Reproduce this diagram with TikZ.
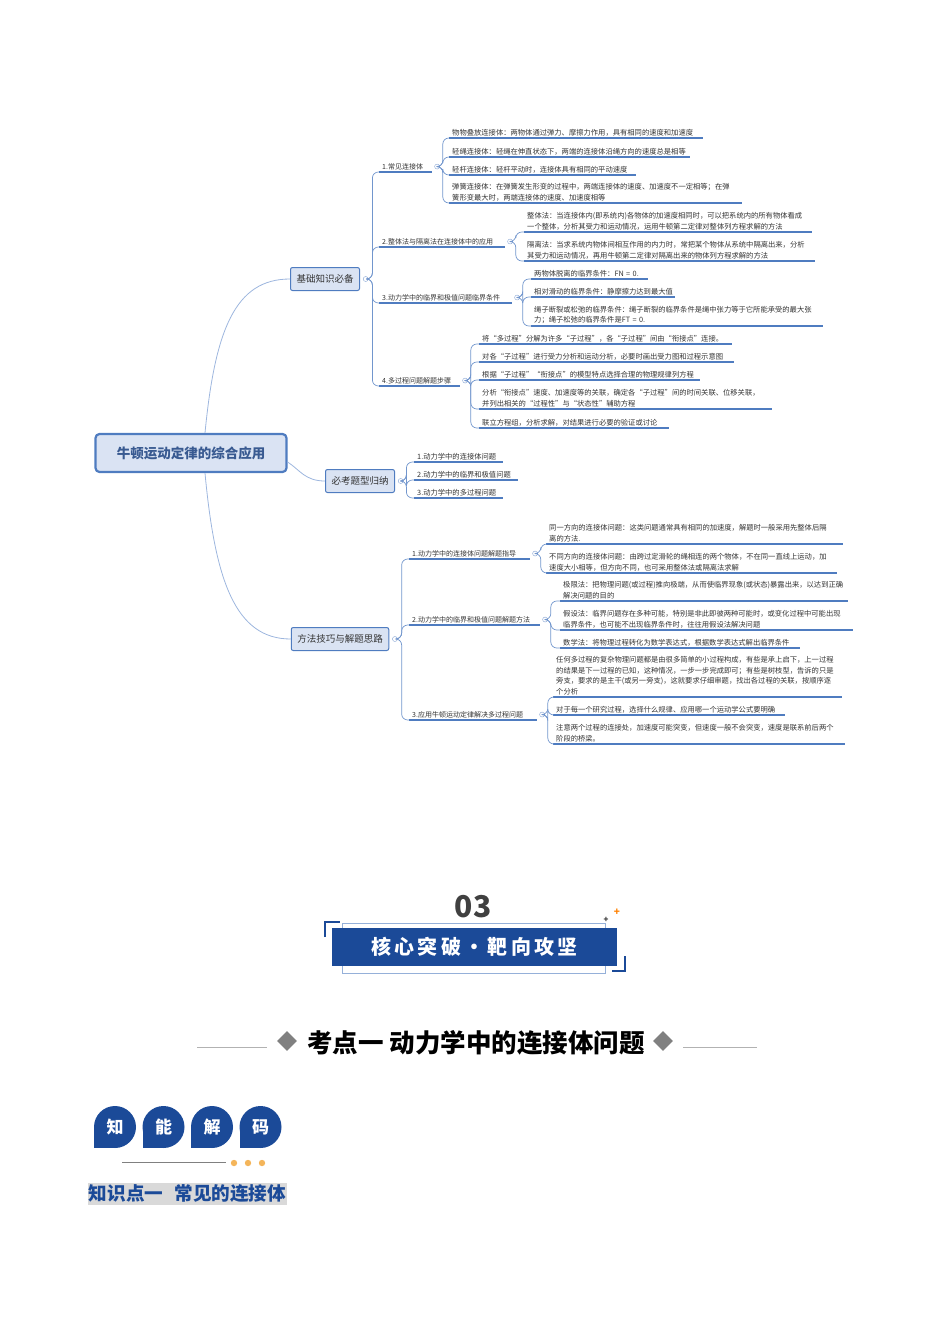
\documentclass[tikz,border=0pt]{standalone}
\usepackage{fontspec}
\setmainfont{Noto Sans CJK SC}
\usepackage{tikz}
\usetikzlibrary{positioning}
\definecolor{lineblue}{HTML}{4F7CC0}
\definecolor{branchblue}{HTML}{9DB6DE}
\definecolor{boxfill}{HTML}{DAE3F3}
\definecolor{navy}{HTML}{1B4A98}
\definecolor{leafgray}{HTML}{333333}
\definecolor{dotorange}{HTML}{F4B55A}

\begin{document}
\begin{tikzpicture}[%
    x=1pt, y=-1pt,
    root/.style={%
        draw=lineblue,
        line width=2.2pt,
        fill=boxfill,
        rounded corners=4pt,
        minimum width=191pt,
        minimum height=38pt,
        font=\fontsize{13.5}{15}\selectfont\bfseries,
        text=navy!70!gray
    },
    topic/.style={%
        draw=lineblue,
        line width=1pt,
        fill=boxfill,
        rounded corners=2pt,
        minimum height=23pt,
        inner xsep=6pt,
        font=\fontsize{9.5}{11}\selectfont,
        text=leafgray
    },
    sub/.style={%
        anchor=south west,
        inner xsep=3pt,
        inner ysep=2pt,
        align=left,
        font=\fontsize{7}{10.5}\selectfont,
        text=leafgray
    },
    leaf/.style={%
        sub,
        font=\fontsize{7.3}{10.5}\selectfont
    },
    coll/.style={%
        draw=lineblue!70,
        circle,
        inner sep=0pt,
        minimum size=5pt,
        fill=white
    },
    uline/.style={draw=lineblue, line width=1.1pt},
    branch/.style={draw=lineblue!80, line width=0.7pt, rounded corners=6pt},
    trunk/.style={draw=branchblue, line width=0.8pt}
]
\useasboundingbox (0,0) rectangle (950,1344);

% Root and main topics
    \node[root] (root) at (191,453) {牛顿运动定律的综合应用};
    \node[topic] (basic) at (325,279) {基础知识必备};
    \node[topic] (types) at (360,481) {必考题型归纳};
    \node[topic] (method) at (340,639) {方法技巧与解题思路};
    \node[coll, right=3pt of basic] (basicC) {};
    \node[coll, right=3pt of types] (typesC) {};
    \node[coll, right=3pt of method] (methodC) {};

\draw[trunk] ([xshift=14pt]root.north) .. controls (215,330) and (235,279) .. (basic.west);
\draw[trunk] ([yshift=-9pt]root.east) .. controls (300,470) and (305,481) .. (types.west);
\draw[trunk] ([xshift=14pt]root.south) .. controls (215,580) and (235,639) .. (method.west);

% Basic knowledge
    \node[sub, text width=47pt] (b1) at (379,172) {1.常见连接体};
    \node[sub, text width=120pt] (b2) at (379,247) {2.整体法与隔离法在连接体中的应用};
    \node[sub, text width=127pt] (b3) at (379,303) {3.动力学中的临界和极值问题临界条件};
    \node[sub, text width=75pt] (b4) at (379,386) {4.多过程问题解题步骤};
    \foreach \b in {b1,b2,b3,b4} {
        \node[coll, right=2pt of \b] (\b C) {};
        \draw[uline] (\b.south west) -- (\b.south east);
        \draw[branch] (basicC.east) -- ++(4,0) |- (\b.south west);
    }

    \node[leaf, text width=248pt] (b11) at (449,138) {物物叠放连接体：两物体通过弹力、摩擦力作用，具有相同的速度和加速度};
    \node[leaf, text width=235pt] (b12) at (449,157) {轻绳连接体：轻绳在伸直状态下，两端的连接体沿绳方向的速度总是相等};
    \node[leaf, text width=181pt] (b13) at (449,175) {轻杆连接体：轻杆平动时，连接体具有相同的平动速度};
    \node[leaf, text width=287pt] (b14) at (449,203) {弹簧连接体：在弹簧发生形变的过程中，两端连接体的速度、加速度不一定相等；在弹\\簧形变最大时，两端连接体的速度、加速度相等};
    \node[leaf, text width=282pt] (b21) at (524,232) {整体法：当连接体内(即系统内)各物体的加速度相同时，可以把系统内的所有物体看成\\一个整体，分析其受力和运动情况，运用牛顿第二定律对整体列方程求解的方法};
    \node[leaf, text width=285pt] (b22) at (524,261) {隔离法：当求系统内物体间相互作用的内力时，常把某个物体从系统中隔离出来，分析\\其受力和运动情况，再用牛顿第二定律对隔离出来的物体列方程求解的方法};
    \node[leaf, text width=111pt] (b31) at (531,279) {两物体脱离的临界条件：FN = 0.};
    \node[leaf, text width=138pt] (b32) at (531,297) {相对滑动的临界条件：静摩擦力达到最大值};
    \node[leaf, text width=286pt] (b33) at (531,326) {绳子断裂或松弛的临界条件：绳子断裂的临界条件是绳中张力等于它所能承受的最大张\\力；绳子松弛的临界条件是FT = 0.};
    \node[leaf, text width=247pt] (b41) at (479,344) {将“多过程”分解为许多“子过程”，各“子过程”间由“衔接点”连接。};
    \node[leaf, text width=249pt] (b42) at (479,362) {对各“子过程”进行受力分析和运动分析，必要时画出受力图和过程示意图};
    \node[leaf, text width=215pt] (b43) at (479,380) {根据“子过程”“衔接点”的模型特点选择合理的物理规律列方程};
    \node[leaf, text width=287pt] (b44) at (479,409) {分析“衔接点”速度、加速度等的关联，确定各“子过程”间的时间关联、位移关联，\\并列出相关的“过程性”与“状态性”辅助方程};
    \node[leaf, text width=184pt] (b45) at (479,428) {联立方程组，分析求解，对结果进行必要的验证或讨论};
    \foreach \p/\l in {b1/b11,b1/b12,b1/b13,b1/b14,b2/b21,b2/b22,b3/b31,b3/b32,b3/b33,%
        b4/b41,b4/b42,b4/b43,b4/b44,b4/b45} {
        \draw[uline] (\l.south west) -- (\l.south east);
        \draw[branch] (\p C.east) -- ++(3,0) |- (\l.south west);
    }

% Question types
    \node[leaf, text width=83pt] (t1) at (414,462) {1.动力学中的连接体问题};
    \node[leaf, text width=98pt] (t2) at (414,480) {2.动力学中的临界和极值问题};
    \node[leaf, text width=83pt] (t3) at (414,498) {3.动力学中的多过程问题};
    \foreach \l in {t1,t2,t3} {
        \draw[uline] (\l.south west) -- (\l.south east);
        \draw[branch] (typesC.east) -- ++(3,0) |- (\l.south west);
    }

% Methods
    \node[sub, text width=115pt] (m1) at (409,559) {1.动力学中的连接体问题解题指导};
    \node[sub, text width=125pt] (m2) at (409,625) {2.动力学中的临界和极值问题解题方法};
    \node[sub, text width=122pt] (m3) at (409,720) {3.应用牛顿运动定律解决多过程问题};
    \foreach \b in {m1,m2,m3} {
        \node[coll, right=2pt of \b] (\b C) {};
        \draw[uline] (\b.south west) -- (\b.south east);
        \draw[branch] (methodC.east) -- ++(4,0) |- (\b.south west);
    }

    \node[leaf, text width=291pt] (m11) at (546,544) {同一方向的连接体问题：这类问题通常具有相同的加速度，解题时一般采用先整体后隔\\离的方法.};
    \node[leaf, text width=285pt] (m12) at (546,573) {不同方向的连接体问题：由跨过定滑轮的绳相连的两个物体，不在同一直线上运动，加\\速度大小相等，但方向不同，也可采用整体法或隔离法求解};
    \node[leaf, text width=282pt] (m21) at (560,601) {极限法：把物理问题(或过程)推向极端，从而使临界现象(或状态)暴露出来，以达到正确\\解决问题的目的};
    \node[leaf, text width=287pt] (m22) at (560,630) {假设法：临界问题存在多种可能，特别是非此即彼两种可能时，或变化过程中可能出现\\临界条件，也可能不出现临界条件时，往往用假设法解决问题};
    \node[leaf, text width=234pt] (m23) at (560,648) {数学法：将物理过程转化为数学表达式，根据数学表达式解出临界条件};
    \node[leaf, text width=283pt] (m31) at (553,697) {任何多过程的复杂物理问题都是由很多简单的小过程构成，有些是承上启下，上一过程\\的结果是下一过程的已知，这种情况，一步一步完成即可；有些是树枝型，告诉的只是\\旁支，要求的是主干(或另一旁支)，这就要求仔细审题，找出各过程的关联，按顺序逐\\个分析};
    \node[leaf, text width=226pt] (m32) at (553,715) {对于每一个研究过程，选择什么规律、应用哪一个运动学公式要明确};
    \node[leaf, text width=286pt] (m33) at (553,744) {注意两个过程的连接处，加速度可能突变，但速度一般不会突变，速度是联系前后两个\\阶段的桥梁。};
    \foreach \p/\l in {m1/m11,m1/m12,m2/m21,m2/m22,m2/m23,m3/m31,m3/m32,m3/m33} {
        \draw[uline] (\l.south west) -- (\l.south east);
        \draw[branch] (\p C.east) -- ++(3,0) |- (\l.south west);
    }

% Section banner
    \node[font=\fontsize{30}{32}\selectfont\bfseries, text=black!75] (num) at (473,907) {03};
    \draw[lineblue!60, line width=0.8pt] (342,923) rectangle (605,973);
    \node[fill=navy, minimum width=285pt, minimum height=38pt, text=white,
        font=\fontsize{20}{22}\selectfont\bfseries] (banner) at (474.5,947) {核\,心\,突\,破\,・\,靶\,向\,攻\,坚};
    \draw[navy, line width=1.3pt] (325,937) -- (325,922) -- (340,922);
    \draw[navy, line width=1.3pt] (612,971) -- (625,971) -- (625,956);
    \node[font=\fontsize{8}{8}\selectfont\bfseries, text=black!80, inner sep=0pt] (star1) at (606,920) {+};
    \node[font=\fontsize{10}{10}\selectfont\bfseries, text=orange, inner sep=0pt] (star2) at (617,912) {+};

% Heading
    \node[font=\fontsize{25.5}{27}\selectfont\bfseries] (head) at (476,1043) {考点一 动力学中的连接体问题};
    \node[fill=gray, rotate=45, minimum size=14pt, inner sep=0pt] (dl) at (287,1041) {};
    \node[fill=gray, rotate=45, minimum size=14pt, inner sep=0pt] (dr) at (663,1041) {};
    \draw[gray!60, line width=0.6pt] (197,1047) -- (267,1047);
    \draw[gray!60, line width=0.6pt] (683,1047) -- (757,1047);

% Badges
    \foreach \i/\t in {0/知,1/能,2/解,3/码} {
        \fill[navy] (115+48.5*\i,1127) circle (21);
        \fill[navy] (94+48.5*\i,1127) rectangle (115+48.5*\i,1148);
        \node[text=white, font=\fontsize{17}{17}\selectfont\bfseries] (badge\i) at (115+48.5*\i,1127) {\t};
    }
    \draw[gray, line width=0.8pt] (122,1162) -- (226,1162);
    \foreach \i in {0,1,2} \fill[dotorange] (234+14*\i,1163) circle (3.2);
    \node[fill=black!15, text=navy, inner xsep=1pt, inner ysep=2pt,
        font=\fontsize{18.6}{20}\selectfont\bfseries] (kp) at (187.5,1194) {知识点一\hspace{0.6em}常见的连接体};
\end{tikzpicture}
\end{document}
